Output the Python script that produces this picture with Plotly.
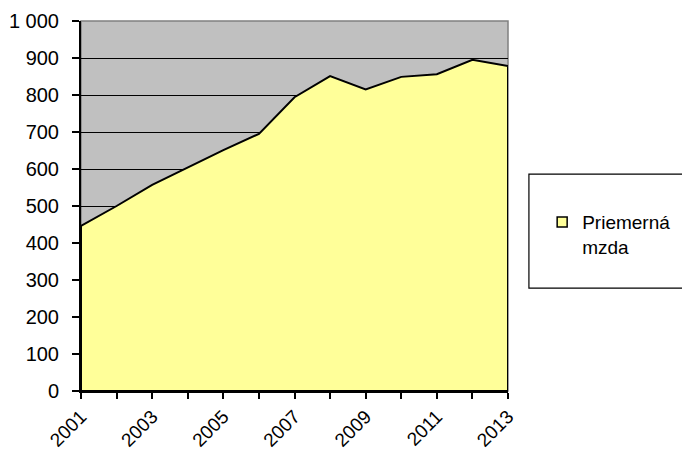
import plotly.graph_objects as go

years = [2001, 2002, 2003, 2004, 2005, 2006, 2007, 2008, 2009, 2010, 2011, 2012, 2013]
wage = [446, 500, 557, 605, 651, 695, 794, 851, 815, 849, 856, 895, 878]
series_name = "Priemerná<br>mzda"
y_tick_vals = [0, 100, 200, 300, 400, 500, 600, 700, 800, 900, 1000]
y_tick_text = ["0", "100", "200", "300", "400", "500", "600", "700", "800", "900", "1 000"]
x_tick_text = [str(y) if (y - years[0]) % 2 == 0 else "" for y in years]

# closed polygon built from the data (area with outline on all sides)
poly_x = years + [years[-1], years[0], years[0]]
poly_y = wage + [0, 0, wage[0]]

FONT = "Liberation Sans, Arial, sans-serif"
FILL = "#FFFF99"

fig = go.Figure()
fig.add_trace(go.Scatter(
    x=poly_x, y=poly_y, mode="lines", fill="toself",
    fillcolor=FILL, line=dict(color="black", width=2),
    name=series_name, showlegend=False, hoverinfo="skip",
))
# legend entry (square swatch)
fig.add_trace(go.Scatter(
    x=[None], y=[None], mode="markers", name=series_name,
    marker=dict(symbol="square", size=10, color=FILL, line=dict(color="black", width=1.5)),
    showlegend=True,
))

fig.update_layout(
    width=682, height=450,
    margin=dict(l=81, r=174, t=21, b=59, autoexpand=False),
    paper_bgcolor="white", plot_bgcolor="#C0C0C0",
    font=dict(family=FONT, size=20, color="black"),
    showlegend=True,
    legend=dict(
        x=1.08, y=0.508, xanchor="left", yanchor="top",
        bgcolor="rgba(0,0,0,0)", borderwidth=0, valign="top",
        font=dict(family=FONT, size=19, color="black"),
        itemwidth=30,
    ),
    xaxis=dict(
        range=[years[0], years[-1]], tickvals=years, ticktext=x_tick_text,
        tickangle=-45, ticks="outside", ticklen=6, tickcolor="black", tickwidth=1.5,
        ticklabelstandoff=-1, tickfont=dict(family=FONT, size=19, color="black"),
        showline=True, linecolor="black", linewidth=2, showgrid=False, zeroline=False,
        fixedrange=True, automargin=False,
    ),
    yaxis=dict(
        range=[0, 1000], tickvals=y_tick_vals, ticktext=y_tick_text,
        ticks="outside", ticklen=7, tickcolor="black", tickwidth=1.5,
        ticklabelstandoff=9,
        showline=True, linecolor="black", linewidth=2,
        showgrid=True, gridcolor="black", gridwidth=1.3, zeroline=False,
        fixedrange=True, automargin=False,
    ),
    shapes=[
        dict(type="rect", xref="paper", yref="paper", x0=0, x1=1, y0=0, y1=1,
             line=dict(color="#808080", width=1.5), fillcolor="rgba(0,0,0,0)", layer="below"),
        dict(type="rect", xref="paper", yref="paper", x0=1.049, x1=1.42, y0=0.278, y1=0.586,
             line=dict(color="black", width=1.2), fillcolor="white", layer="below"),
    ],
)

fig.write_html(
    "out.html",
    config={"displayModeBar": False},
    post_script="document.body.style.margin='0';document.body.style.overflow='hidden';",
)
